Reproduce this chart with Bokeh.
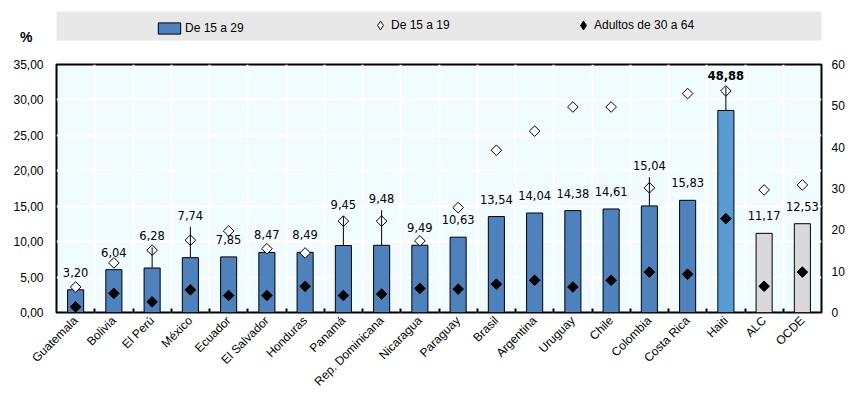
import math
from bokeh.plotting import figure
from bokeh.layouts import column
from bokeh.models import (ColumnDataSource, Range1d, LinearAxis, FixedTicker,
                          Legend, LegendItem, BoxAnnotation)
from bokeh.embed import file_html
from bokeh.resources import INLINE
from bokeh.core.properties import value

nan = float("nan")

countries = ["Guatemala", "Bolivia", "El Perú", "México", "Ecuador", "El Salvador", "Honduras",
             "Panamá", "Rep. Dominicana", "Nicaragua", "Paraguay", "Brasil", "Argentina",
             "Uruguay", "Chile", "Colombia", "Costa Rica", "Haiti", "ALC", "OCDE"]
youth_15_29 = [3.20, 6.04, 6.28, 7.74, 7.85, 8.47, 8.49, 9.45, 9.48, 9.49, 10.63, 13.54, 14.04,
               14.38, 14.61, 15.04, 15.83, 48.88, 11.17, 12.53]
teen_15_19 = [3.6, 7.0, 8.8, 10.2, 11.5, 9.0, 8.4, 12.9, 12.9, 10.1, 14.8, 22.9, 25.6,
              29.0, 29.0, 17.6, 30.9, 53.6, 17.3, 18.0]
adult_30_64 = [0.8, 2.7, 1.5, 3.2, 2.4, 2.4, 3.7, 2.4, 2.6, 3.4, 3.3, 4.0, 4.55,
               3.6, 4.55, 5.7, 5.4, 22.7, 3.7, 5.7]
upper_bound = [nan, nan, 9.2, 12.1, nan, nan, nan, 13.6, 14.45, nan, nan, nan, nan,
               nan, nan, 19.1, nan, 54.5, nan, nan]
right_axis_members = ["Haiti"]
aggregates = ["ALC", "OCDE"]
left_ticks = [0, 5, 10, 15, 20, 25, 30, 35]
right_ticks = [0, 10, 20, 30, 40, 50, 60]
legend_labels = ["De 15 a 29", "De 15 a 19", "Adultos de 30 a 64"]
unit_label = "%"

BLUE = "#4f81bd"
LIGHT_BLUE = "#5b9bd5"
GREY = "#d9d9d9"
FONT = "Liberation Sans"

# layout (pixels)
W, H = 857, 398
HEAD_H = 48                      # strip holding the legend and the unit
B_LEFT, B_RIGHT, B_TOP, B_BOTTOM = 56, 36, 64 - HEAD_H, 86
LEGEND_MID = 25
UNIT_Y = 36

n = len(countries)
centers = [i + 0.5 for i in range(n)]
boundaries = [float(i) for i in range(1, n)]


def has_ub(i):
    return upper_bound[i] == upper_bound[i]


def build(rows, cond=None):
    d = dict(x=[], youth=[], teen=[], adult=[], color=[], label=[], upper=[])
    for i in rows:
        if cond is not None and not cond(i):
            continue
        c = countries[i]
        d["x"].append(centers[i])
        d["youth"].append(youth_15_29[i])
        d["teen"].append(teen_15_19[i])
        d["adult"].append(adult_30_64[i])
        d["color"].append(GREY if c in aggregates else LIGHT_BLUE if c in right_axis_members else BLUE)
        d["label"].append(f"{youth_15_29[i]:.2f}".replace(".", ","))
        d["upper"].append(upper_bound[i])
    return ColumnDataSource(d)


left_rows = [i for i, c in enumerate(countries) if c not in right_axis_members]
right_rows = [i for i, c in enumerate(countries) if c in right_axis_members]
src_l, src_r = build(left_rows), build(right_rows)
err_l = build(left_rows, has_ub)
err_r = build(right_rows, has_ub)
plain_l = build(left_rows, lambda i: not has_ub(i))

# ---------------- main chart ----------------
p = figure(width=W, height=H - HEAD_H, x_range=Range1d(0, n),
           y_range=Range1d(left_ticks[0], left_ticks[-1]),
           output_backend="svg", toolbar_location=None,
           min_border_left=B_LEFT, min_border_right=B_RIGHT,
           min_border_top=B_TOP, min_border_bottom=B_BOTTOM)
p.extra_y_ranges = {"right": Range1d(right_ticks[0], right_ticks[-1])}

p.background_fill_color = "#f0fcff"
p.outline_line_color = "black"
p.outline_line_width = 2

p.xgrid.ticker = FixedTicker(ticks=boundaries)
p.ygrid.ticker = FixedTicker(ticks=left_ticks)
for g in (p.xgrid, p.ygrid):
    g.grid_line_color = "white"
    g.grid_line_width = 2

xa = p.xaxis[0]
xa.ticker = FixedTicker(ticks=centers, minor_ticks=boundaries)
xa.major_label_overrides = {c: name for c, name in zip(centers, countries)}
xa.major_label_orientation = math.pi / 4
xa.major_label_text_font = FONT
xa.major_label_text_font_size = "12px"
xa.major_label_text_color = "black"
xa.major_label_standoff = 6
xa.major_tick_out = 0
xa.major_tick_in = 0
xa.minor_tick_out = 0
xa.minor_tick_in = 4
xa.minor_tick_line_color = "black"
xa.minor_tick_line_width = 2
xa.axis_line_color = None

ya = p.yaxis[0]
ya.ticker = FixedTicker(ticks=left_ticks)
ya.major_label_overrides = {t: f"{t:.2f}".replace(".", ",") for t in left_ticks}
ya.major_label_text_font = FONT
ya.major_label_text_font_size = "12px"
ya.major_label_text_color = "black"
ya.major_label_standoff = 13
ya.major_tick_out = 0
ya.major_tick_in = 0
ya.minor_tick_out = 0
ya.minor_tick_in = 0
ya.axis_line_color = None

ra = LinearAxis(y_range_name="right", ticker=FixedTicker(ticks=right_ticks))
ra.major_label_text_font = FONT
ra.major_label_text_font_size = "12px"
ra.major_label_text_color = "black"
ra.major_label_standoff = 10
ra.major_tick_out = 0
ra.major_tick_in = 0
ra.minor_tick_out = 0
ra.minor_tick_in = 0
ra.axis_line_color = None
p.add_layout(ra, "right")

p.vbar(x="x", top="youth", width=0.42, source=src_l,
       fill_color="color", line_color="black", line_width=1)
p.vbar(x="x", top="youth", width=0.42, source=src_r, y_range_name="right",
       fill_color="color", line_color="black", line_width=1)

mk = dict(marker="square", angle=math.pi / 4, size=7.5, line_color="black", line_width=1)
p.scatter(x="x", y="teen", source=src_l, fill_color="white", **mk)
p.scatter(x="x", y="teen", source=src_r, y_range_name="right", fill_color="white", **mk)
p.scatter(x="x", y="adult", source=src_l, fill_color="black", **mk)
p.scatter(x="x", y="adult", source=src_r, y_range_name="right", fill_color="black", **mk)

p.segment(x0="x", y0="youth", x1="x", y1="upper", source=err_l, line_color="black", line_width=1)
p.segment(x0="x", y0="youth", x1="x", y1="upper", source=err_r, y_range_name="right",
          line_color="black", line_width=1)

tx = dict(text="label", text_align="center", text_baseline="middle",
          text_font=value("DejaVu Sans"), text_font_size="11.5px", text_color="black")
p.text(x="x", y="youth", source=plain_l, y_offset=-17.5, **tx)
p.text(x="x", y="upper", source=err_l, y_offset=-11.5, **tx)
p.text(x="x", y="upper", source=err_r, y_range_name="right", y_offset=-11.5,
       text_font_style="bold", **tx)

# ---------------- legend strip ----------------
# its frame is aligned with the chart's frame, so the x range spans that frame in pixels
head = figure(width=W, height=HEAD_H, x_range=Range1d(B_LEFT, W - B_RIGHT),
              y_range=Range1d(HEAD_H, 0),
              output_backend="svg", toolbar_location=None, min_border=0,
              x_axis_location=None, y_axis_location=None)
head.outline_line_color = None
head.background_fill_color = "white"
head.grid.grid_line_color = None

head.add_layout(BoxAnnotation(left=41, right=824, top=11, bottom=40,
                              fill_color="#e8e8e8", fill_alpha=1, line_alpha=0,
                              level="underlay"))

# the unit is drawn as the strip's single left-axis label
ua = LinearAxis(ticker=FixedTicker(ticks=[UNIT_Y]), major_label_overrides={UNIT_Y: unit_label})
ua.major_label_text_font = FONT
ua.major_label_text_font_size = "14px"
ua.major_label_text_font_style = "bold"
ua.major_label_text_color = "black"
ua.major_label_standoff = 24
ua.major_tick_out = 0
ua.major_tick_in = 0
ua.minor_tick_out = 0
ua.minor_tick_in = 0
ua.axis_line_color = None
head.add_layout(ua, "left")

# legend swatches (a single off-scale point each, so nothing shows but the key)
key_bar = head.vbar(x=[nan], top=[nan], width=1, fill_color=BLUE, line_color="black",
                    line_width=1)
key_open = head.scatter(x=[nan], y=[nan], marker="diamond", fill_color="white",
                        line_color="black", line_width=1)
key_black = head.scatter(x=[nan], y=[nan], marker="diamond", fill_color="black",
                         line_color="black", line_width=1)


def add_key(label, renderer, x_px, gw, gh, standoff):
    h = max(gh, 20)
    vy = HEAD_H - (LEGEND_MID + h / 2)
    lg = Legend(items=[LegendItem(label=label, renderers=[renderer])],
                location=(x_px - B_LEFT, vy), orientation="horizontal",
                glyph_width=gw, glyph_height=gh, label_standoff=standoff, padding=0, margin=0,
                background_fill_alpha=0, border_line_alpha=0,
                label_text_font=FONT, label_text_font_size="12px", label_text_color="black")
    head.add_layout(lg)


add_key(legend_labels[0], key_bar, 155, 28, 14, 2)
add_key(legend_labels[1], key_open, 369, 22, 22, 0)
add_key(legend_labels[2], key_black, 572, 22, 22, 0)

open("out.html", "w").write(file_html(column(head, p, spacing=0), INLINE))
